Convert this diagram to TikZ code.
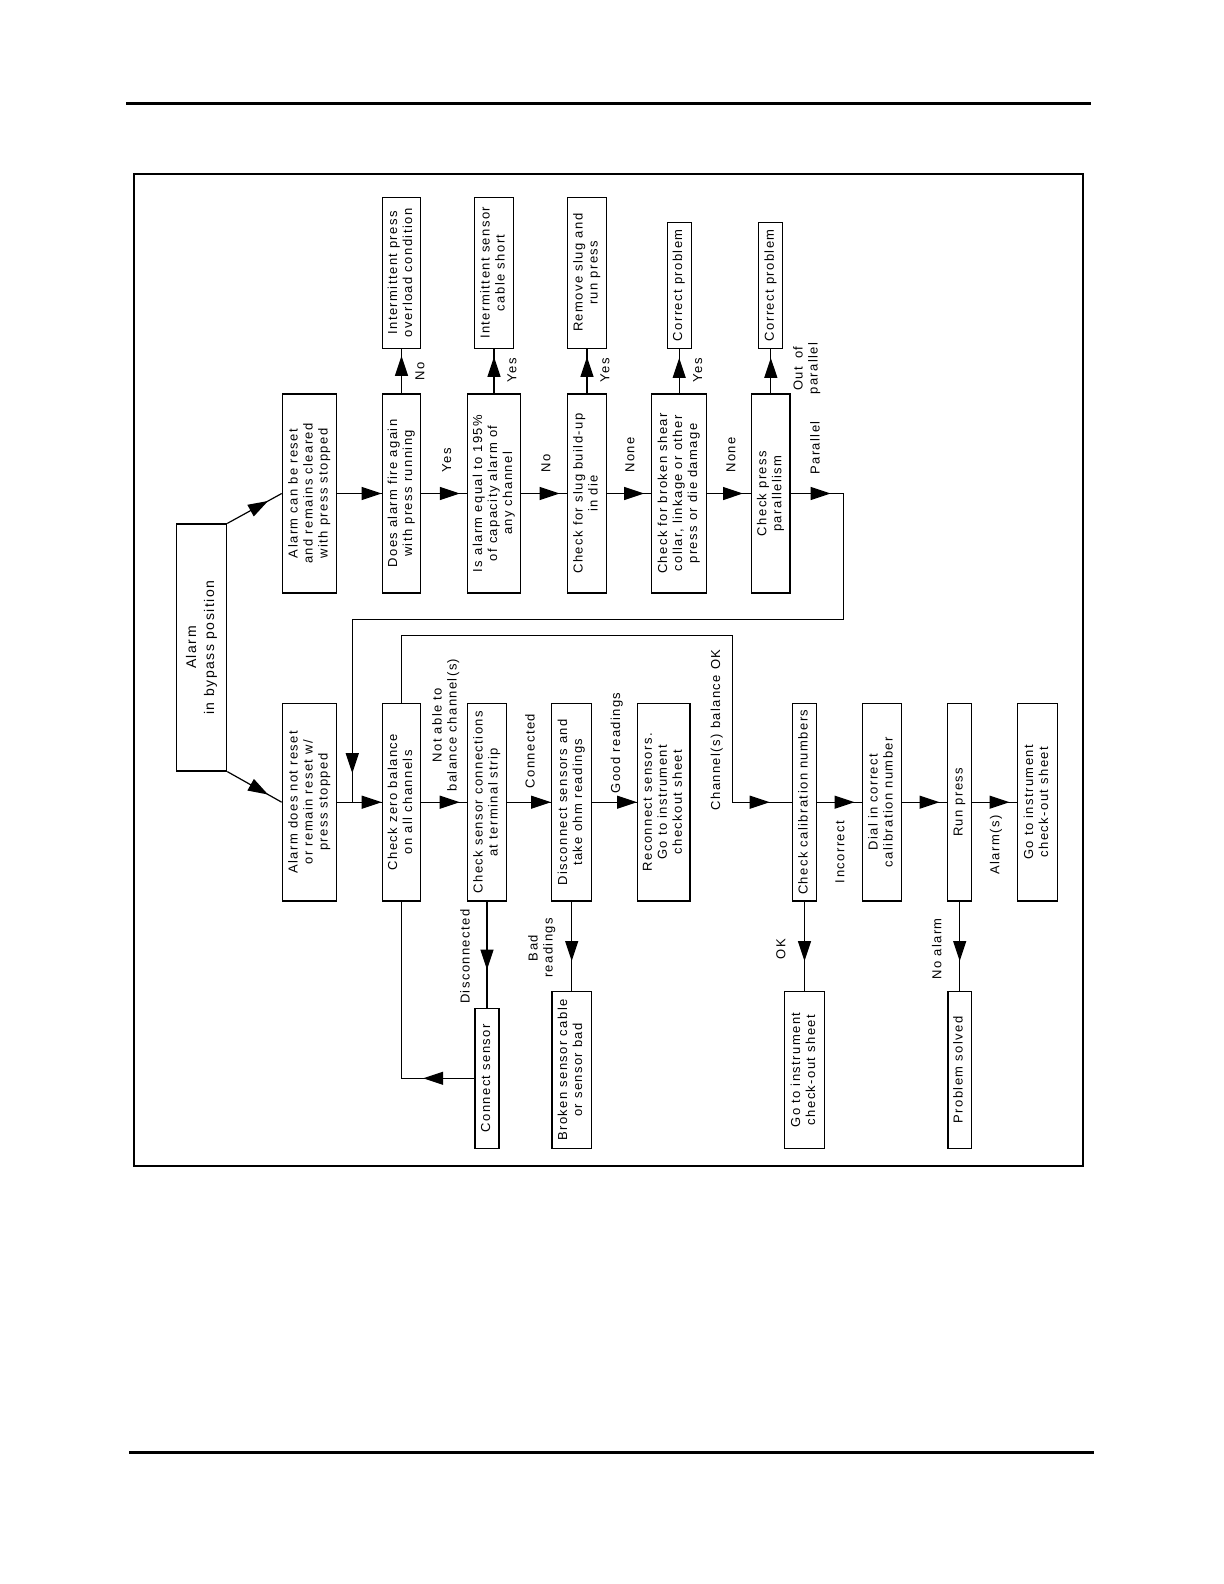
\documentclass[tikz,border=0pt]{standalone}
\usepackage{fontspec}
\setmainfont{Liberation Sans}[LetterSpace=11]
\usepackage{graphicx}
\usetikzlibrary{arrows.meta,decorations.markings}
\newcommand{\rottxt}[1]{\rotatebox{90}{\begin{tabular}{@{}c@{}}#1\end{tabular}}}
\tikzset{
  box/.style={draw,line width=.6pt,inner sep=0pt,font=\fontsize{6.5}{7.5}\selectfont},
  lbl/.style={rotate=90,align=center,inner sep=0pt,font=\fontsize{6.5}{7.5}\selectfont},
  flow/.style={line width=.6pt,postaction={decorate},decoration={markings,
    mark=at position #1 with {\arrow{Triangle[length=10pt,width=6.5pt]}}}},
  flowtwo/.style 2 args={line width=.6pt,postaction={decorate},decoration={markings,
    mark=at position #1 with {\arrow{Triangle[length=10pt,width=6.5pt]}},
    mark=at position #2 with {\arrow{Triangle[length=10pt,width=6.5pt]}}}}
}
\begin{document}
\begin{tikzpicture}[x=.5pt,y=-.5pt]
\useasboundingbox (0,0) rectangle (1224,1584);
\draw[line width=1.5pt] (126,104)--(1091,104);
\draw[line width=1.5pt] (129,1452)--(1094,1452);
\draw[line width=.6pt] (134,174) rectangle (1083,1166);
% start
\node[box,minimum width=25.1pt,minimum height=123.5pt,font=\fontsize{7}{9}\selectfont] (bypass) at (201.6,647.5) {\rottxt{Alarm\\in bypass position}};
% upper branch
\node[box,minimum width=27.2pt,minimum height=99.5pt] (reset) at (309.5,493.5) {\rottxt{Alarm can be reset\\and remains cleared\\with press stopped}};
\node[box,minimum width=19.2pt,minimum height=99.5pt] (fire) at (401.5,493.5) {\rottxt{Does alarm fire again\\with press running}};
\node[box,minimum width=26.6pt,minimum height=99.5pt] (equal) at (494,493.5) {\rottxt{Is alarm equal to 195\%\\of capacity alarm of\\any channel}};
\node[box,minimum width=19.7pt,minimum height=99.5pt] (slug) at (587,493.5) {\rottxt{Check for slug build-up\\in die}};
\node[box,minimum width=27.5pt,minimum height=99.5pt] (shear) at (679.2,493.5) {\rottxt{Check for broken shear\\collar, linkage or other\\press or die damage}};
\node[box,minimum width=19.2pt,minimum height=99.5pt] (para) at (770.8,493.5) {\rottxt{Check press\\parallelism}};
\node[box,minimum width=19.2pt,minimum height=75.5pt] (overload) at (401.5,272.8) {\rottxt{Intermittent press\\overload condition}};
\node[box,minimum width=19.5pt,minimum height=75.5pt] (short) at (494,272.8) {\rottxt{Intermittent sensor\\cable short}};
\node[box,minimum width=19.7pt,minimum height=75.5pt] (remove) at (587,272.8) {\rottxt{Remove slug and\\run press}};
\node[box,minimum width=12pt,minimum height=63pt] (correctA) at (679.2,285.3) {\rottxt{Correct problem}};
\node[box,minimum width=12pt,minimum height=63pt] (correctB) at (770.8,285.3) {\rottxt{Correct problem}};
% lower branch
\node[box,minimum width=27.2pt,minimum height=98.75pt] (noreset) at (309.5,802.2) {\rottxt{Alarm does not reset\\or remain reset w/\\press stopped}};
\node[box,minimum width=19.2pt,minimum height=98.75pt] (zero) at (401.5,802.2) {\rottxt{Check zero balance\\on all channels}};
\node[box,minimum width=19.7pt,minimum height=98.75pt] (conn) at (487,802.2) {\rottxt{Check sensor connections\\at terminal strip}};
\node[box,minimum width=20pt,minimum height=98.75pt] (ohm) at (571.7,802.2) {\rottxt{Disconnect sensors and\\take ohm readings}};
\node[box,minimum width=26.2pt,minimum height=98.75pt] (reconn) at (663.8,802.2) {\rottxt{Reconnect sensors.\\Go to instrument\\checkout sheet}};
\node[box,minimum width=12.2pt,minimum height=98.75pt] (calib) at (804.5,802.2) {\rottxt{Check calibration numbers}};
\node[box,minimum width=19.7pt,minimum height=98.75pt] (dial) at (882,802.2) {\rottxt{Dial in correct\\calibration number}};
\node[box,minimum width=12pt,minimum height=98.75pt] (run) at (959.7,802.2) {\rottxt{Run press}};
\node[box,minimum width=19.8pt,minimum height=98.75pt] (sheetA) at (1037.5,802.2) {\rottxt{Go to instrument\\check-out sheet}};
\node[box,minimum width=12pt,minimum height=70pt] (consensor) at (487,1078.3) {\rottxt{Connect sensor}};
\node[box,minimum width=19.7pt,minimum height=78.3pt] (broken) at (571.7,1070) {\rottxt{Broken sensor cable\\or sensor bad}};
\node[box,minimum width=20pt,minimum height=78.3pt] (sheetB) at (804.5,1070) {\rottxt{Go to instrument\\check-out sheet}};
\node[box,minimum width=11.7pt,minimum height=78.3pt] (solved) at (959.7,1070) {\rottxt{Problem solved}};
\coordinate (parR) at (843.3,619.3);
\coordinate (join) at (352.3,802.2);
\coordinate (okR) at (732.3,635.7);
% connectors
\draw[flow=.75] (bypass.north east)--(reset.west);
\draw[flow=.75] (bypass.south east)--(noreset.west);
\draw[flow=1] (reset)--(fire);
\draw[flow=-3.5pt] (fire)--(equal);
\draw[flow=-3.5pt] (equal)--(slug);
\draw[flow=-3.5pt] (slug)--(shear);
\draw[flow=-4pt] (shear)--(para);
\draw[flow=-3.5pt] (fire)--(overload);
\draw[flow=-4pt] (equal)--(short);
\draw[flow=-4pt] (slug)--(remove);
\draw[flow=-4.5pt] (shear)--(correctA);
\draw[flow=-4.5pt] (para)--(correctB);
\draw[flowtwo={20pt}{-14.5pt}] (para.east)-|(parR)-|(join);
\draw[flow=1] (noreset)--(zero);
\draw[flow=-3.5pt] (zero)--(conn);
\draw[flow=1] (conn)--(ohm);
\draw[flow=1] (ohm)--(reconn);
\draw[flow=-11pt] (zero.north)|-(okR)|-(calib.west);
\draw[flow=-3.6pt] (calib)--(dial);
\draw[flow=-3.8pt] (dial)--(run);
\draw[flow=-3.8pt] (run)--(sheetA);
\draw[flow=-19pt] (conn)--(consensor);
\draw[flow=-15pt] (ohm)--(broken);
\draw[flow=-15pt] (calib)--(sheetB);
\draw[flow=-15pt] (run)--(solved);
\draw[flow=25.6pt] (consensor.west)-|(zero.south);
% labels
\node[lbl] (lNoA) at (420,371.7) {No};
\node[lbl] (lYesA) at (446.7,460) {Yes};
\node[lbl] (lYesB) at (512,370) {Yes};
\node[lbl] (lNoB) at (546,463) {No};
\node[lbl] (lYesC) at (605,370) {Yes};
\node[lbl] (lNoneA) at (630,455) {None};
\node[lbl] (lYesD) at (697.7,370) {Yes};
\node[lbl] (lNoneB) at (731,455) {None};
\node[lbl] (lPar) at (815,448) {Parallel};
\node[lbl] (lOut) at (806.7,368.5) {Out\hspace{4pt}of\\parallel};
\node[lbl] (lNotable) at (445.8,725) {Not able to\\balance channel(s)};
\node[lbl] (lDisc) at (465,956.7) {Disconnected};
\node[lbl] (lConn) at (530,751) {Connected};
\node[lbl] (lBad) at (541.7,948) {Bad\\readings};
\node[lbl] (lGood) at (616.7,743) {Good readings};
\node[lbl] (lBalOK) at (716.7,730) {Channel(s) balance OK};
\node[lbl] (lOK) at (781,949) {OK};
\node[lbl] (lIncor) at (840,852) {Incorrect};
\node[lbl] (lNoal) at (936.7,949) {No alarm};
\node[lbl] (lAlarms) at (996,845) {Alarm(s)};
\end{tikzpicture}
\end{document}
